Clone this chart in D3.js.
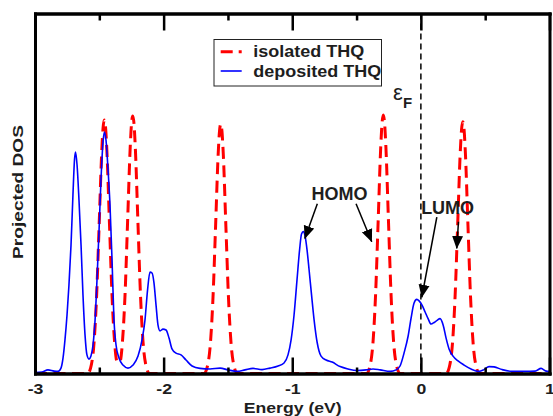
<!DOCTYPE html>
<html>
<head>
<meta charset="utf-8">
<script src="https://cdn.jsdelivr.net/npm/d3@7"></script>
<style>
  body { margin: 0; background: #fff; }
  svg { display: block; }
</style>
</head>
<body>
<svg id="chart" width="553" height="416"></svg>
<script>
// Projected density of states of THQ: isolated molecule vs. molecule deposited on the surface.
// Each point: [energy (eV), DOS (arb. units)]
const isolatedTHQ = [
  [-3.000, 0], [-2.590, 0], [-2.561, 0.31], [-2.541, 1.03], [-2.521, 2.59], [-2.501, 4.99],
  [-2.481, 7.41], [-2.471, 8.18], [-2.461, 8.45], [-2.451, 8.18], [-2.441, 7.41], [-2.421, 4.99],
  [-2.401, 2.59], [-2.381, 1.03], [-2.361, 0.38], [-2.340, 0.39], [-2.320, 1.06], [-2.300, 2.63],
  [-2.280, 5.07], [-2.260, 7.52], [-2.250, 8.31], [-2.240, 8.58], [-2.230, 8.31], [-2.220, 7.52],
  [-2.200, 5.07], [-2.180, 2.63], [-2.160, 1.05], [-2.140, 0.32], [-2.110, 0],
  [-1.686, 0], [-1.656, 0.31], [-1.636, 1.02], [-1.616, 2.55], [-1.596, 4.91], [-1.576, 7.30],
  [-1.566, 8.05], [-1.556, 8.32], [-1.546, 8.05], [-1.536, 7.30], [-1.516, 4.91], [-1.496, 2.55],
  [-1.476, 1.02], [-1.456, 0.31], [-1.426, 0],
  [-0.422, 0], [-0.392, 0.32], [-0.372, 1.05], [-0.352, 2.64], [-0.332, 5.09], [-0.312, 7.56],
  [-0.302, 8.34], [-0.292, 8.62], [-0.282, 8.34], [-0.272, 7.56], [-0.252, 5.09], [-0.232, 2.64],
  [-0.212, 1.05], [-0.192, 0.32], [-0.162, 0],
  [0.196, 0], [0.226, 0.31], [0.246, 1.02], [0.266, 2.57], [0.286, 4.95], [0.306, 7.36],
  [0.316, 8.12], [0.326, 8.39], [0.336, 8.12], [0.346, 7.36], [0.366, 4.95], [0.386, 2.57],
  [0.406, 1.02], [0.426, 0.31], [0.456, 0], [1.000, 0]
];

const depositedTHQ = [
  [-3.000, 0.03], [-2.946, 0.05], [-2.899, 0.12], [-2.852, 0.08], [-2.821, 0.07], [-2.798, 0.18],
  [-2.782, 0.52], [-2.767, 1.12], [-2.751, 1.95], [-2.736, 2.95], [-2.720, 4.28], [-2.705, 5.95],
  [-2.693, 7.12], [-2.685, 7.38], [-2.673, 6.95], [-2.658, 5.78], [-2.642, 4.28], [-2.627, 2.62],
  [-2.611, 1.28], [-2.596, 0.62], [-2.580, 0.48], [-2.565, 0.58], [-2.549, 0.95], [-2.533, 1.78],
  [-2.518, 3.12], [-2.502, 4.78], [-2.487, 6.45], [-2.471, 7.72], [-2.461, 8.05], [-2.448, 7.78],
  [-2.432, 6.78], [-2.417, 5.62], [-2.401, 3.78], [-2.386, 1.78], [-2.370, 0.95], [-2.347, 0.52],
  [-2.316, 0.28], [-2.277, 0.18], [-2.238, 0.28], [-2.199, 0.58], [-2.168, 1.12], [-2.145, 1.78],
  [-2.125, 2.78], [-2.106, 3.38], [-2.090, 3.35], [-2.075, 3.02], [-2.059, 2.28], [-2.044, 1.62],
  [-2.028, 1.42], [-2.005, 1.48], [-1.981, 1.45], [-1.958, 1.18], [-1.935, 0.82], [-1.904, 0.68],
  [-1.865, 0.62], [-1.826, 0.45], [-1.779, 0.25], [-1.717, 0.17], [-1.639, 0.15], [-1.561, 0.18],
  [-1.499, 0.12], [-1.429, 0.07], [-1.367, 0.12], [-1.305, 0.17], [-1.235, 0.13], [-1.173, 0.18],
  [-1.110, 0.25], [-1.064, 0.35], [-1.033, 0.62], [-1.009, 1.12], [-0.986, 1.95], [-0.963, 3.12],
  [-0.943, 4.12], [-0.928, 4.65], [-0.914, 4.73], [-0.900, 4.58], [-0.885, 4.12], [-0.869, 3.45],
  [-0.850, 2.62], [-0.830, 1.78], [-0.807, 1.05], [-0.776, 0.58], [-0.737, 0.45], [-0.690, 0.38],
  [-0.628, 0.23], [-0.566, 0.15], [-0.496, 0.10], [-0.426, 0.12], [-0.372, 0.15], [-0.317, 0.12],
  [-0.239, 0.07], [-0.193, 0.12], [-0.162, 0.25], [-0.131, 0.68], [-0.099, 1.25], [-0.076, 1.85],
  [-0.053, 2.35], [-0.032, 2.47], [-0.014, 2.42], [0.009, 2.28], [0.033, 2.05], [0.056, 1.83],
  [0.079, 1.65], [0.103, 1.70], [0.126, 1.77], [0.149, 1.83], [0.173, 1.62], [0.196, 1.18],
  [0.219, 0.82], [0.250, 0.58], [0.289, 0.42], [0.336, 0.28], [0.390, 0.15], [0.452, 0.07],
  [0.491, 0.13], [0.530, 0.23], [0.569, 0.22], [0.631, 0.13], [0.709, 0.07], [0.810, 0.07],
  [0.888, 0.08], [0.935, 0.17], [0.974, 0.08], [1.000, 0.07]
];

const xMajorTicks = [-3, -2, -1, 0, 1];
const xMinorTicks = [-2.5, -1.5, -0.5, 0.5];
const seriesNames = ["isolated THQ", "deposited THQ"];
const fermiEnergy = 0;

// Orbital annotations: label anchor and arrows [fromE, fromD, toE, toD], in data units
const annotations = [
  { text: "HOMO", E: -0.632, D: 5.78,
    arrows: [[-0.805, 5.66, -0.902, 4.50], [-0.504, 5.66, -0.382, 4.39]] },
  { text: "LUMO", E: 0.208, D: 5.33,
    arrows: [[0.124, 5.21, 0.007, 2.54], [0.292, 5.06, 0.279, 4.17]] }
];

const W = 553, H = 416;
const plotLeft = 35, plotRight = 549.5, plotTop = 13.5, plotBottom = 373.5;
const FONT = "'Liberation Sans', Arial, Helvetica, sans-serif";
const INK = "#1e1e1e";

const x = d3.scaleLinear().domain([-3, 1]).range([plotLeft, plotRight]);
const y = d3.scaleLinear().domain([0, 12]).range([plotBottom, plotTop]);

const svg = d3.select("#chart");
svg.append("rect").attr("width", W).attr("height", H).attr("fill", "#fff");

const defs = svg.append("defs");
defs.append("clipPath").attr("id", "plot-clip")
  .append("rect").attr("x", plotLeft).attr("y", plotTop)
  .attr("width", plotRight - plotLeft).attr("height", plotBottom - plotTop);
defs.append("marker")
  .attr("id", "arrowhead")
  .attr("viewBox", "0 -6 13 12")
  .attr("refX", 12.5).attr("refY", 0)
  .attr("markerUnits", "userSpaceOnUse")
  .attr("markerWidth", 13).attr("markerHeight", 12)
  .attr("orient", "auto")
  .append("path").attr("d", "M0,-5.5L13,0L0,5.5Z").attr("fill", "#000");

const line = d3.line()
  .x(d => x(d[0]))
  .y(d => y(d[1]))
  .curve(d3.curveMonotoneX);

const plot = svg.append("g").attr("clip-path", "url(#plot-clip)");

// Fermi level
plot.append("line")
  .attr("x1", x(fermiEnergy)).attr("x2", x(fermiEnergy))
  .attr("y1", plotTop).attr("y2", plotBottom)
  .attr("stroke", "#000").attr("stroke-width", 1.5)
  .attr("stroke-dasharray", "6,4");

plot.append("path")
  .datum(isolatedTHQ)
  .attr("d", line)
  .attr("fill", "none")
  .attr("stroke", "#ff0000")
  .attr("stroke-width", 3)
  .attr("stroke-dasharray", "12,6.5");

plot.append("path")
  .datum(depositedTHQ)
  .attr("d", line)
  .attr("fill", "none")
  .attr("stroke", "#0000ff")
  .attr("stroke-width", 1.6)
  .attr("stroke-linejoin", "round");

// Frame and ticks
function styleAxis(g) {
  g.attr("font-family", null).attr("font-size", null);
  g.select(".domain").attr("stroke", "#000").attr("stroke-width", 3).attr("stroke-linecap", "square");
  g.selectAll(".tick line").attr("stroke", "#000").attr("stroke-width", 2.5);
}

const xBottom = svg.append("g").attr("transform", `translate(0,${plotBottom})`)
  .call(d3.axisBottom(x).tickValues(xMajorTicks).tickSizeInner(-16).tickSizeOuter(0)
    .tickPadding(10).tickFormat(d => String(d)))
  .call(styleAxis);
xBottom.selectAll(".tick text")
  .attr("font-family", FONT).attr("font-weight", "bold").attr("font-size", 15.5)
  .attr("fill", INK).attr("transform", "scale(1.14,1)");

svg.append("g").attr("transform", `translate(0,${plotBottom})`)
  .call(d3.axisBottom(x).tickValues(xMinorTicks).tickSizeInner(-6).tickSizeOuter(0).tickFormat(""))
  .call(styleAxis);
svg.append("g").attr("transform", `translate(0,${plotTop})`)
  .call(d3.axisTop(x).tickValues(xMajorTicks).tickSizeInner(-17).tickSizeOuter(0).tickFormat(""))
  .call(styleAxis);
svg.append("g").attr("transform", `translate(0,${plotTop})`)
  .call(d3.axisTop(x).tickValues(xMinorTicks).tickSizeInner(-7).tickSizeOuter(0).tickFormat(""))
  .call(styleAxis);
svg.append("g").attr("transform", `translate(${plotLeft},0)`)
  .call(d3.axisLeft(y).tickValues([]).tickSizeOuter(0))
  .call(styleAxis);
svg.append("g").attr("transform", `translate(${plotRight},0)`)
  .call(d3.axisRight(y).tickValues([]).tickSizeOuter(0))
  .call(styleAxis);

// Axis titles
svg.append("text")
  .attr("transform", `translate(${(plotLeft + plotRight) / 2 + 0.5},412.7) scale(1.175,1)`)
  .attr("text-anchor", "middle")
  .attr("font-family", FONT).attr("font-weight", "bold").attr("font-size", 15)
  .attr("fill", INK)
  .text("Energy (eV)");

svg.append("text")
  .attr("transform", "translate(22.5,192) rotate(-90) scale(1.31,1)")
  .attr("text-anchor", "middle")
  .attr("font-family", FONT).attr("font-weight", "bold").attr("font-size", 14.6)
  .attr("fill", INK)
  .text("Projected DOS");

// Fermi level label
const ef = svg.append("text")
  .attr("x", x(-0.216)).attr("y", y(9.12))
  .attr("font-family", FONT).attr("fill", INK);
ef.append("tspan").attr("font-size", 22).text("ε");
ef.append("tspan").attr("font-size", 15).attr("font-weight", "bold").attr("dy", 8).text("F");

// Orbital annotations
annotations.forEach(a => {
  svg.append("text")
    .attr("x", x(a.E)).attr("y", y(a.D))
    .attr("text-anchor", "middle")
    .attr("font-family", FONT).attr("font-weight", "bold").attr("font-size", 18)
    .attr("fill", INK)
    .text(a.text);
  a.arrows.forEach(r => {
    svg.append("line")
      .attr("x1", x(r[0])).attr("y1", y(r[1]))
      .attr("x2", x(r[2])).attr("y2", y(r[3]))
      .attr("stroke", "#000").attr("stroke-width", 1.5)
      .attr("marker-end", "url(#arrowhead)");
  });
});

// Legend
const legend = svg.append("g");
legend.append("rect")
  .attr("x", 214).attr("y", 39.5).attr("width", 167.5).attr("height", 46.5)
  .attr("fill", "#fff").attr("stroke", "#222").attr("stroke-width", 1);
const legendStyles = [
  { color: "#ff0000", width: 3, dash: "12,6" },
  { color: "#0000ff", width: 1.6, dash: null }
];
seriesNames.forEach((name, i) => {
  const cy = 51.7 + i * 19.3;
  legend.append("line")
    .attr("x1", 220.7).attr("x2", 241.7).attr("y1", cy).attr("y2", cy)
    .attr("stroke", legendStyles[i].color).attr("stroke-width", legendStyles[i].width)
    .attr("stroke-dasharray", legendStyles[i].dash);
  legend.append("text")
    .attr("transform", `translate(253.3,${cy + 5.5}) scale(1.06,1)`)
    .attr("font-family", FONT).attr("font-weight", "bold").attr("font-size", 17)
    .attr("fill", INK)
    .text(name);
});
</script>
</body>
</html>
